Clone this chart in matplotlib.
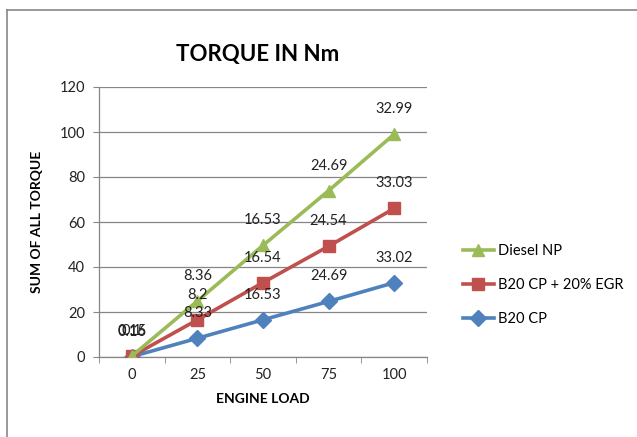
import numpy as np
import matplotlib.pyplot as plt
from matplotlib.lines import Line2D

plt.rcParams['font.family'] = ['Lato', 'DejaVu Sans']

# data (stacked line chart, values per engine load)
loads = ['0', '25', '50', '75', '100']
b20_cp = [0.16, 8.33, 16.53, 24.69, 33.02]
b20_egr = [0.15, 8.2, 16.54, 24.54, 33.03]
diesel_np = [0.1, 8.36, 16.53, 24.69, 32.99]

series = [('B20 CP', b20_cp, '#4F81BD', 'D'),
          ('B20 CP + 20% EGR', b20_egr, '#C0504D', 's'),
          ('Diesel NP', diesel_np, '#9BBB59', '^')]

fig = plt.figure(figsize=(6.37, 4.37), dpi=100)
ax = fig.add_axes([99/637, 80/437, 328/637, 270/437])

x = np.arange(len(loads))
bottom = np.zeros(len(loads))
handles = []
for name, vals, col, mk in series:
    top = bottom + np.array(vals)
    h, = ax.plot(x, top, color=col, lw=2.6, marker=mk, markersize=9 if mk != 'D' else 8,
                 markeredgecolor=col, label=name, zorder=3)
    handles.append(h)
    for xi, yi, v in zip(x, top, vals):
        ax.annotate(f'{v:g}', (xi, yi), xytext=(0, 18), textcoords='offset points',
                    ha='center', va='center', fontsize=10.5, color='#222222', zorder=4)
    bottom = top

ax.set_xlim(-0.5, len(loads) - 0.5)
ax.set_ylim(0, 120)
ax.set_yticks(range(0, 121, 20))
ax.set_xticks(x)
ax.set_xticklabels(loads)
ax.set_xticks(np.arange(-0.5, len(loads)), minor=True)
ax.tick_params(axis='x', which='major', length=0, pad=8)
ax.tick_params(axis='x', which='minor', length=4, color='#868686')
ax.tick_params(axis='y', length=4, color='#868686', pad=6)
ax.tick_params(labelsize=10.5, labelcolor='#222222')
ax.grid(axis='y', color='#868686', lw=0.9)
ax.set_axisbelow(True)
for s in ['top', 'right']:
    ax.spines[s].set_visible(False)
for s in ['left', 'bottom']:
    ax.spines[s].set_color('#868686')
    ax.spines[s].set_linewidth(0.9)

ax.set_xlabel('ENGINE LOAD', fontsize=10, fontweight='bold', labelpad=8)
ax.set_ylabel('SUM OF ALL TORQUE', fontsize=10, fontweight='bold', labelpad=12)
fig.text(258/637, 1 - 55/437, 'TORQUE IN Nm', fontsize=16, fontweight='bold',
         ha='center', va='center')

ax.legend(handles=handles[::-1], loc='center left', bbox_to_anchor=(450/637, 1 - 285/437),
          bbox_transform=fig.transFigure, frameon=False, fontsize=10.5,
          handlelength=2.1, labelspacing=1.35, handletextpad=0.3)

# outer chart border
fig.add_artist(Line2D([7/637, 7/637], [0, 1 - 10/437], color='#888888', lw=1.2))
fig.add_artist(Line2D([7/637, 1], [1 - 10/437, 1 - 10/437], color='#888888', lw=1.2))

fig.savefig('out.png', dpi=100)
